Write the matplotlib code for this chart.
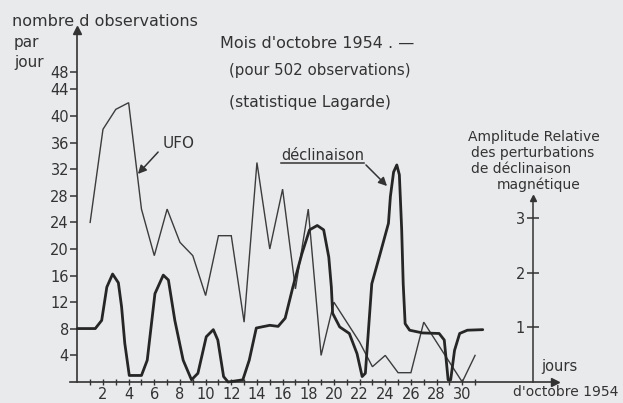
import matplotlib
matplotlib.use("Agg")
import matplotlib.pyplot as plt
from matplotlib.patches import FancyArrowPatch
from matplotlib.lines import Line2D

# ---------------- data ----------------
ufo_days = list(range(1, 32))
ufo_counts = [24, 38, 41, 42, 26, 19, 26, 21, 19, 13, 22, 22, 9, 33, 20, 29,
              14, 26, 4, 12, 9, 6, 2.3, 4, 1.4, 1.4, 9, 6, 3, 0, 4]

decl_days = [0.0, 1.4, 1.9, 2.3, 2.75, 3.2, 3.45, 3.7, 4.05, 5.0, 5.45, 6.05,
             6.7, 7.1, 7.6, 8.25, 8.9, 9.4, 10.05, 10.6, 10.95, 11.4, 11.75,
             12.9, 13.4, 13.95, 15.0, 15.65, 16.2, 16.8, 17.5, 18.1, 18.7,
             19.2, 19.6, 19.8, 19.9, 20.45, 21.2, 21.8, 22.2, 22.45, 22.95,
             23.6, 24.25, 24.4, 24.65, 24.9, 25.1, 25.28, 25.4, 25.55, 25.9,
             26.9, 28.2, 28.6, 28.9, 29.1, 29.4, 29.8, 30.4, 31.6]
decl_amp = [0.98, 0.98, 1.13, 1.74, 1.98, 1.82, 1.38, 0.71, 0.12, 0.12, 0.40,
            1.62, 1.96, 1.87, 1.13, 0.40, 0.04, 0.16, 0.83, 0.96, 0.77, 0.10,
            0.0, 0.04, 0.40, 0.99, 1.04, 1.02, 1.17, 1.74, 2.35, 2.79, 2.87,
            2.79, 2.29, 1.74, 1.26, 1.01, 0.89, 0.52, 0.10, 0.16, 1.80, 2.35,
            2.91, 3.40, 3.85, 3.98, 3.80, 2.80, 1.80, 1.07, 0.95, 0.90, 0.89,
            0.77, 0.04, 0.04, 0.58, 0.89, 0.95, 0.96]

left_ticks = [4, 8, 12, 16, 20, 24, 28, 32, 36, 40, 44]
left_tick_labels = [str(t) for t in left_ticks]
top_label = "48"
x_major = list(range(2, 31, 2))
x_major_labels = [str(d) for d in x_major]
x_minor = list(range(1, 32, 2))
right_ticks = [1, 2, 3]
right_tick_labels = ["1", "2", "3"]

# ---------------- style ----------------
BG = "#e9eaec"
INK = "#333333"
SCALE = 8.2  # left units per right unit
FS = 10.5

fig = plt.figure(figsize=(6.23, 4.03), dpi=100, facecolor=BG)
ax = fig.add_axes([0.1035, 0.0356, 0.8135, 0.9076])
ax.set_facecolor("none")
ax.set_xlim(-1, 38.5)
ax.set_ylim(-1, 54)

for s in ["top", "right"]:
    ax.spines[s].set_visible(False)
ax.spines["left"].set_position(("data", 0))
ax.spines["bottom"].set_position(("data", 0))
ax.spines["left"].set_bounds(0, 53)
ax.spines["bottom"].set_bounds(-0.6, 37.2)
for s in ["left", "bottom"]:
    ax.spines[s].set_color(INK)
    ax.spines[s].set_linewidth(1.2)
ax.plot([0], [53], marker="^", color=INK, ms=6, clip_on=False)
ax.plot([37.2], [0], marker=">", color=INK, ms=6, clip_on=False)

ax.set_yticks(left_ticks + [46.6])
ax.set_yticklabels(left_tick_labels + [top_label])
ax.tick_params(axis="y", direction="out", length=5, width=1.1, color=INK,
               labelcolor=INK, labelsize=FS, pad=1)
ax.set_xticks(x_major)
ax.set_xticklabels(x_major_labels)
ax.set_xticks(x_minor, minor=True)
ax.tick_params(axis="x", which="both", direction="inout", length=5, width=1.0,
               color=INK, labelcolor=INK, labelsize=FS, pad=1)

# UFO series
ax.plot(ufo_days, ufo_counts, color="#3c3c3c", lw=1.0, solid_joinstyle="miter")

# right axis (declination)
ax2 = ax.twinx()
ax2.set_ylim(-1 / SCALE, 54 / SCALE)
for s in ["top", "right", "bottom"]:
    ax2.spines[s].set_visible(False)
ax2.spines["left"].set_visible(True)
ax2.spines["left"].set_position(("data", 35.5))
ax2.spines["left"].set_bounds(0, 3.38)
ax2.spines["left"].set_color(INK)
ax2.spines["left"].set_linewidth(1.1)
ax2.yaxis.set_ticks_position("left")
ax2.set_yticks(right_ticks)
ax2.set_yticklabels(right_tick_labels)
ax2.tick_params(axis="y", direction="inout", length=9, width=1.1, color=INK,
                labelcolor=INK, labelsize=FS, pad=1)
ax2.plot([35.5], [3.38], marker="^", color=INK, ms=5, clip_on=False)
ax2.plot(decl_days, decl_amp, color="#262626", lw=2.0, solid_joinstyle="round",
         solid_capstyle="round")

# ---------------- texts ----------------
def ftext(x, y, s, size=FS):
    fig.text(x / 623, 1 - y / 403, s, color=INK, fontsize=size, va="center")

ftext(12, 22, "nombre d observations", 11.5)
ftext(14, 42, "par", 11)
ftext(14, 63, "jour", 11)
ftext(220, 43, "Mois d'octobre 1954 . \u2014", 11.5)
ftext(229, 71, "(pour 502 observations)", 10.8)
ftext(229, 102, "(statistique Lagarde)", 11.2)
ftext(163, 144, "UFO", 11)
ftext(281, 156, "déclinaison")
ftext(468, 137, "Amplitude Relative", 10)
ftext(471, 153, "des perturbations", 10)
ftext(471, 169, "de déclinaison", 10)
ftext(497, 185, "magnétique", 10)
ftext(541, 367, "jours")
ftext(513, 392, "d'octobre 1954", 10)


def fx(x):
    return x / 623


def fy(y):
    return 1 - y / 403


fig.add_artist(FancyArrowPatch(
    (fx(160), fy(150)), (fx(136), fy(176)), transform=fig.transFigure,
    arrowstyle="-|>,head_length=5,head_width=2.5", color=INK, lw=1.1))
fig.add_artist(Line2D([fx(281), fx(364)], [fy(163), fy(163)],
                      transform=fig.transFigure, color=INK, lw=1.1))
fig.add_artist(FancyArrowPatch(
    (fx(364), fy(163)), (fx(389), fy(188)), transform=fig.transFigure,
    arrowstyle="-|>,head_length=5,head_width=2.5", color=INK, lw=1.1))

fig.savefig("out.png", dpi=100, facecolor=BG)
